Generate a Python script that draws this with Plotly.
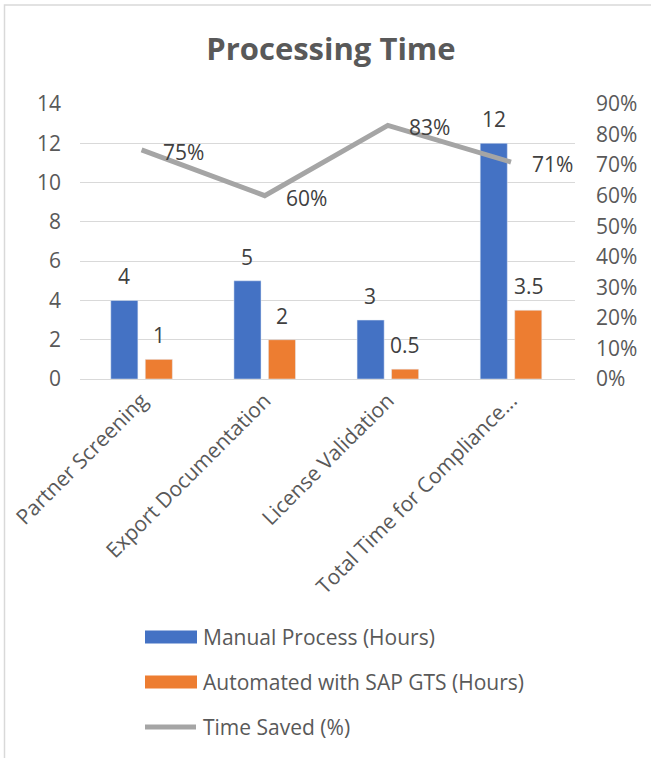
import plotly.graph_objects as go

# Chart data
categories = ["Partner Screening", "Export Documentation", "License Validation",
              "Total Time for Compliance..."]
manual_hours = [4, 5, 3, 12]
automated_hours = [1, 2, 0.5, 3.5]
time_saved = [0.75, 0.60, 0.83, 0.71]
series_names = ["Manual Process (Hours)", "Automated with SAP GTS (Hours)", "Time Saved (%)"]
left_ticks = [0, 2, 4, 6, 8, 10, 12, 14]
right_ticks = [0, 0.1, 0.2, 0.3, 0.4, 0.5, 0.6, 0.7, 0.8, 0.9]

BLUE = "#4472C4"
ORANGE = "#ED7D31"
GRAY = "#A5A5A5"
TEXT = "#595959"
LABEL = "#404040"
GRID = "#D9D9D9"
FONT = "Open Sans"
FS = 21

W, H = 651, 758
L, R, T, B = 80, 76, 104, 379  # plot area: x 80..575, y 104..379

fig = go.Figure()

fig.add_trace(go.Bar(
    x=categories, y=manual_hours, name=series_names[0],
    marker_color=BLUE, width=0.22, offset=-0.25, showlegend=False,
))
fig.add_trace(go.Bar(
    x=categories, y=automated_hours, name=series_names[1],
    marker_color=ORANGE, width=0.22, offset=0.03, showlegend=False,
))
fig.add_trace(go.Scatter(
    x=categories, y=time_saved, name=series_names[2], yaxis="y2",
    mode="lines", line=dict(color=GRAY, width=5), showlegend=False,
))

annotations = []
# value labels above the bars
for cat, v in zip(categories, manual_hours):
    annotations.append(dict(x=cat, y=v, xref="x", yref="y", text=f"{v:g}",
                            showarrow=False, xshift=-17.5, yshift=24, yanchor="middle",
                            font=dict(family=FONT, size=FS, color=LABEL)))
for cat, v in zip(categories, automated_hours):
    annotations.append(dict(x=cat, y=v, xref="x", yref="y", text=f"{v:g}",
                            showarrow=False, xshift=17.5, yshift=24, yanchor="middle",
                            font=dict(family=FONT, size=FS, color=LABEL)))
# percentage labels to the right of the line points
for cat, v in zip(categories, time_saved):
    annotations.append(dict(x=cat, y=v, xref="x", yref="y2", text=f"{v:.0%}",
                            showarrow=False, xanchor="left", xshift=19, yshift=-2,
                            yanchor="middle",
                            font=dict(family=FONT, size=FS, color=LABEL)))


def px_x(px):
    return (px - L) / (W - L - R)


def px_y(py):
    return (H - B - py) / (H - B - T)


# legend drawn below the category labels
shapes = []
legend_rows = [637, 682, 727]
legend_colors = [BLUE, ORANGE, GRAY]
for i, (row, color, name) in enumerate(zip(legend_rows, legend_colors, series_names)):
    if i < 2:
        shapes.append(dict(type="rect", xref="paper", yref="paper",
                           x0=px_x(145), x1=px_x(197), y0=px_y(row - 6.5), y1=px_y(row + 6.5),
                           fillcolor=color, line=dict(width=0)))
    else:
        shapes.append(dict(type="line", xref="paper", yref="paper",
                           x0=px_x(145), x1=px_x(196), y0=px_y(row), y1=px_y(row),
                           line=dict(color=color, width=5)))
    annotations.append(dict(x=px_x(201), y=px_y(row), xref="paper", yref="paper",
                            text=name, showarrow=False, xanchor="left", yanchor="middle",
                            font=dict(family=FONT, size=FS, color=TEXT)))

# chart frame
shapes.append(dict(type="rect", xref="paper", yref="paper",
                   x0=px_x(4.5), x1=px_x(W + 10), y0=px_y(H + 10), y1=px_y(5),
                   line=dict(color=GRID, width=1.5), fillcolor="rgba(0,0,0,0)", layer="below"))

fig.update_layout(
    width=W, height=H,
    margin=dict(l=L, r=R, t=T, b=B, pad=0, autoexpand=False),
    paper_bgcolor="white", plot_bgcolor="white",
    barmode="overlay",
    title=dict(text="<b>Processing Time</b>", x=330 / W, xanchor="center",
               y=1 - 49 / H, yanchor="middle", xref="paper", yref="container",
               font=dict(family=FONT, size=31, color=TEXT), automargin=False),
    font=dict(family=FONT, size=FS, color=TEXT),
    xaxis=dict(type="category", showgrid=False, showline=True, linecolor=GRID, linewidth=1,
               tickangle=-45, tickfont=dict(family=FONT, size=FS, color=TEXT),
               ticks="", zeroline=False, automargin=False),
    yaxis=dict(range=[0, 14], tickvals=left_ticks, showgrid=True, gridcolor=GRID, gridwidth=1,
               zeroline=False, showline=False, ticks="", ticklabelstandoff=18,
               automargin=False, tickfont=dict(family=FONT, size=FS, color=TEXT)),
    yaxis2=dict(range=[0, 0.9], tickvals=right_ticks, tickformat=".0%", overlaying="y",
                side="right", showgrid=False, zeroline=False, showline=False, ticks="",
                ticklabelstandoff=20, automargin=False,
                tickfont=dict(family=FONT, size=FS, color=TEXT)),
    annotations=annotations,
    shapes=shapes,
    showlegend=False,
)

fig.write_html("out.html")
